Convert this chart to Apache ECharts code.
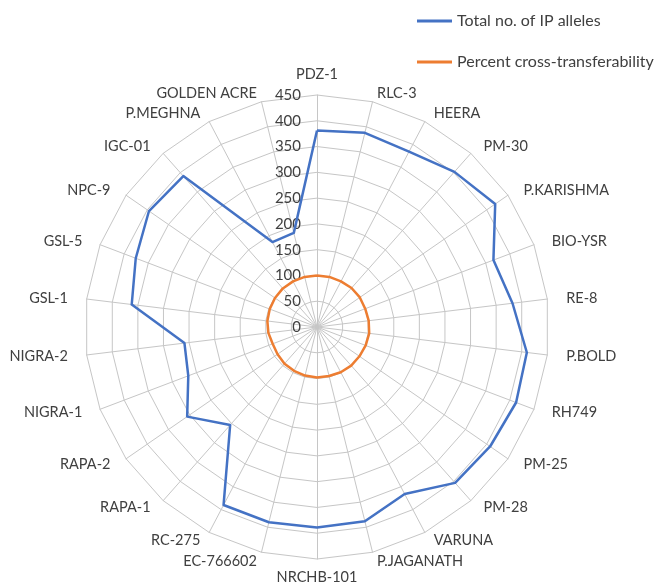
<!DOCTYPE html>
<html>
<head>
<meta charset="utf-8">
<script src="https://cdn.jsdelivr.net/npm/echarts@6/dist/echarts.min.js"></script>
<style>
  html, body { margin: 0; padding: 0; background: #ffffff; }
  #chart { width: 654px; height: 585px; }
</style>
</head>
<body>
<div id="chart"></div>
<script>
// Genotypes, clockwise from the top
const categories = [
  'PDZ-1', 'RLC-3', 'HEERA', 'PM-30', 'P.KARISHMA', 'BIO-YSR', 'RE-8', 'P.BOLD',
  'RH749', 'PM-25', 'PM-28', 'VARUNA', 'P.JAGANATH', 'NRCHB-101', 'EC-766602',
  'RC-275', 'RAPA-1', 'RAPA-2', 'NIGRA-1', 'NIGRA-2', 'GSL-1', 'GSL-5', 'NPC-9',
  'IGC-01', 'P.MEGHNA', 'GOLDEN ACRE'
];

// Total no. of IP alleles per genotype
const ipAlleles = [
  381, 388, 384, 402, 420, 366, 382, 410,
  413, 408, 404, 366, 388, 389, 390,
  390, 254, 306, 267, 259, 362, 376, 396,
  391, 186, 188
];

// Percent cross-transferability per genotype
const crossTransfer = [
  100, 100, 100, 101, 101, 100, 101, 102,
  101, 100, 100, 99, 98, 98, 97,
  96, 95, 93, 92, 95, 97, 98, 99,
  100, 100, 100
];

// Radial scale
const axisMin = 0;
const axisMax = 450;
const axisStep = 50;

const textColor = '#404040';
const gridColor = '#c6c6c6';
const fontFamily = 'Lato, "Open Sans", sans-serif';
const nameFont = { color: textColor, fontSize: 14.5, fontFamily: fontFamily };

// The radar lays its axes out counter-clockwise; keep the first one on top
// and reverse the rest so the genotypes run clockwise.
function clockwiseOrder(arr) {
  return [arr[0]].concat(arr.slice(1).reverse());
}

const n = categories.length;

// Category names sit beside the outer ring: pushed sideways by the gap but
// kept close to the ring's height, except on the vertical axis itself.
function nameLayout(idx) {
  const theta = (idx * 2 * Math.PI) / n;
  const c = Math.cos(theta);
  const s = Math.sin(theta);
  if (Math.abs(s) < 1e-6) {
    return { gap: c > 0 ? 13 : 11, padding: [0, 0, 0, 0] };
  }
  const shift = 10 * c; // move upper names down, lower names up
  const pad = shift > 0 ? [2 * shift, 0, 0, 0] : [0, 0, -2 * shift, 0];
  return { gap: 19, padding: pad };
}

const nameRich = {};
categories.forEach((name, idx) => {
  nameRich['n' + idx] = Object.assign({ padding: nameLayout(idx).padding }, nameFont);
});

const clockwiseIdx = clockwiseOrder(categories.map((_, i) => i));

const indicators = clockwiseIdx.map((idx, i) => {
  const ind = {
    name: categories[idx],
    min: axisMin,
    max: axisMax,
    nameGap: nameLayout(idx).gap
  };
  // only the upright axis carries the value labels
  if (i === 0) {
    ind.axisLabel = {
      show: true,
      color: textColor,
      fontSize: 15,
      fontFamily: fontFamily,
      margin: 16
    };
  }
  return ind;
});

const chart = echarts.init(document.getElementById('chart'), null, { renderer: 'canvas' });

chart.setOption({
  animation: false,
  backgroundColor: '#ffffff',
  legend: {
    orient: 'vertical',
    left: 412,
    top: 8,
    icon: 'rect',
    itemWidth: 35,
    itemHeight: 3,
    itemGap: 25,
    textStyle: { color: textColor, fontSize: 16, fontFamily: fontFamily },
    data: ['Total no. of IP alleles', 'Percent cross-transferability']
  },
  radar: {
    center: [317, 327],
    radius: 232,
    startAngle: 90,
    shape: 'polygon',
    splitNumber: (axisMax - axisMin) / axisStep,
    indicator: indicators,
    axisName: Object.assign({
      formatter: (name) => '{n' + categories.indexOf(name) + '|' + name + '}',
      rich: nameRich
    }, nameFont),
    axisLine: { lineStyle: { color: gridColor, width: 1 } },
    splitLine: { lineStyle: { color: gridColor, width: 1 } },
    splitArea: { show: false },
    axisTick: { show: false },
    axisLabel: { show: false }
  },
  series: [{
    type: 'radar',
    symbol: 'none',
    data: [
      {
        name: 'Total no. of IP alleles',
        value: clockwiseOrder(ipAlleles),
        lineStyle: { color: '#4472C4', width: 2.5 },
        itemStyle: { color: '#4472C4' }
      },
      {
        name: 'Percent cross-transferability',
        value: clockwiseOrder(crossTransfer),
        lineStyle: { color: '#ED7D31', width: 2.5 },
        itemStyle: { color: '#ED7D31' }
      }
    ]
  }]
});
</script>
</body>
</html>
